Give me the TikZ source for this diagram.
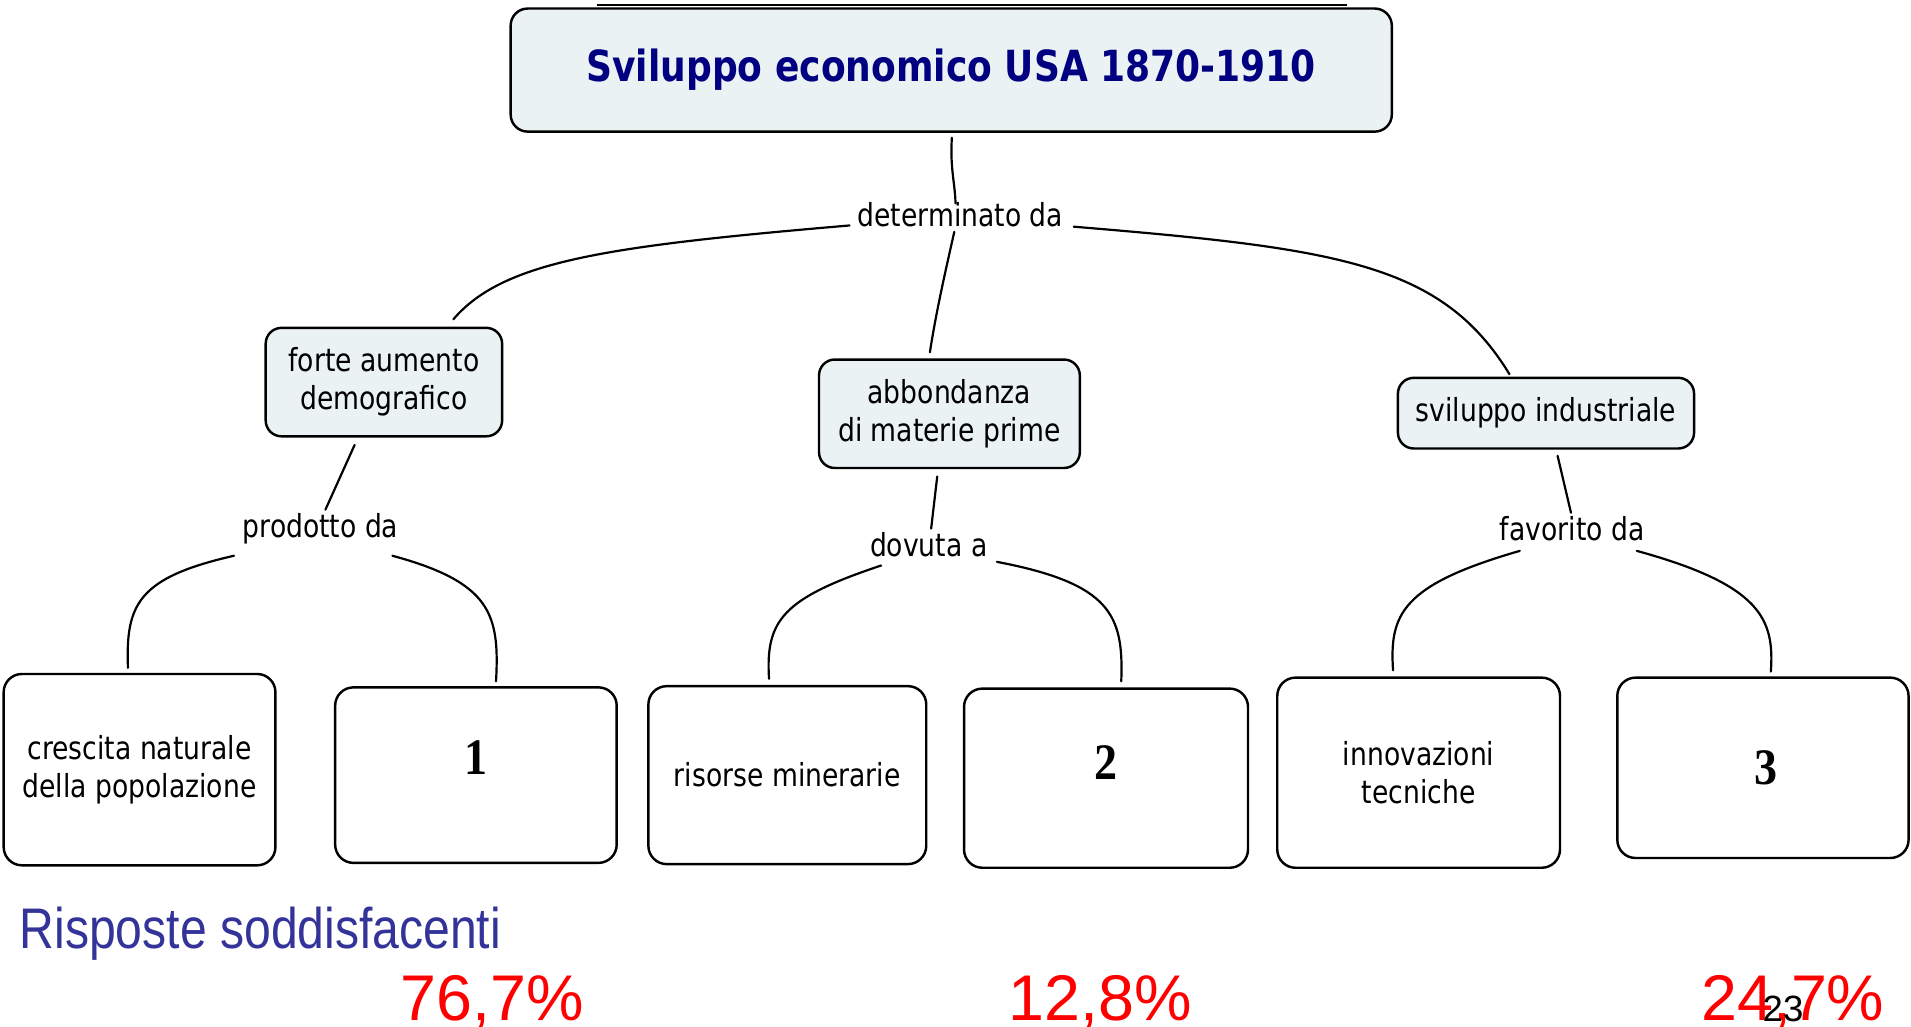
\documentclass[tikz,border=0pt]{standalone}
\usepackage{fontspec}
\setmainfont{DejaVu Sans}[FakeStretch=0.84]
\newfontfamily\arialc{Liberation Sans}[FakeStretch=0.84]
\newfontfamily\arialn{Liberation Sans}
\newfontfamily\timesc{Liberation Serif}[FakeStretch=0.9]
\usetikzlibrary{calc}
\definecolor{boxfill}{HTML}{EBF2F4}
\definecolor{titleblue}{HTML}{000080}
\definecolor{risp}{HTML}{333399}
\tikzset{
  conn/.style={line width=1.8pt, line cap=round},
  concept/.style={draw, line width=2pt, rounded corners=13pt, fill=boxfill, align=center,
     inner sep=0pt, font=\fontsize{26}{31}\selectfont},
  leaf/.style={draw, line width=2pt, rounded corners=15pt, fill=white, align=center,
     inner sep=0pt, font=\fontsize{26}{31}\selectfont},
  linklab/.style={inner sep=0pt, font=\fontsize{26}{31}\selectfont},
  numtxt/.style={font=\timesc\bfseries\fontsize{42}{42}\selectfont},
  pct/.style={text=red, anchor=base, inner sep=0pt, font=\arialn\fontsize{53}{53}\selectfont},
}
\begin{document}
\begin{tikzpicture}[x=1pt,y=-1pt]
\useasboundingbox (0,0) rectangle (1568,842);
% title
\draw[line width=1.5pt] (490,4) -- (1105,4);
\node[concept, minimum width=723pt, minimum height=101pt, rounded corners=14pt,
      font=\bfseries\fontsize{35.2}{40}\selectfont, text=titleblue] (title) at (780.5,57.5)
      {Sviluppo economico USA 1870-1910};
% level 2
\node[concept, minimum width=194pt, minimum height=89pt] (forte) at (315,313.5) {forte aumento\\demografico};
\node[concept, minimum width=214pt, minimum height=89pt] (abb) at (779,339.5) {abbondanza\\di materie prime};
\node[concept, minimum width=243pt, minimum height=58pt] (svil) at (1268.5,339) {sviluppo industriale};
% link labels
\node[linklab] (det) at (788,176) {determinato da};
\node[linklab] (prod) at (263,434) {prodotto da};
\node[linklab] (dov) at (762,447) {dovuta a};
\node[linklab] (fav) at (1290,434) {favorito da};
% leaves
\node[leaf, minimum width=223pt, minimum height=157pt] (l1) at (114.5,631.5) {crescita naturale\\della popolazione};
\node[leaf, minimum width=231pt, minimum height=144pt] (l2) at (390.5,636) {};
\node[numtxt] (n1) at ($(l2.center)+(0,-14)$) {1};
\node[leaf, minimum width=228pt, minimum height=146pt] (l3) at (646,636) {risorse minerarie};
\node[leaf, minimum width=233pt, minimum height=147pt] (l4) at (907.5,638.5) {};
\node[numtxt] (n2) at ($(l4.center)+(0,-13)$) {2};
\node[leaf, minimum width=232pt, minimum height=156pt] (l5) at (1164,634) {innovazioni\\tecniche};
\node[leaf, minimum width=239pt, minimum height=148pt] (l6) at (1446.5,630) {};
\node[numtxt] (n3) at ($(l6.center)+(2.5,0)$) {3};
% connectors
\draw[conn] ($(title.south)+(0.5,4)$) .. controls ($(title.south)+(-1,30)$) and ($(title.south)+(3,40)$) .. ($(det.north)+(-4,1)$);
\draw[conn] ($(det.center)+(-91,9)$) .. controls ($(det.center)+(-290,26)$) and ($(det.center)+(-375,38)$) .. ($(forte.north)+(57,-6)$);
\draw[conn] ($(det.south)+(-5,4)$) .. controls ($(det.south)+(-12,35)$) and ($(det.south)+(-20,70)$) .. ($(abb.north)+(-16,-5)$);
\draw[conn] ($(det.center)+(93,10)$) .. controls ($(det.center)+(310,28)$) and ($(det.center)+(395,40)$) .. ($(svil.north)+(-30,-2)$);
\draw[conn] ($(forte.south)+(-24,6)$) -- ($(prod.north)+(4,-3)$);
\draw[conn] ($(prod.center)+(-71,22)$) .. controls ($(prod.center)+(-150,40)$) and ($(prod.center)+(-160,62)$) .. ($(l1.north)+(-9.5,-4)$);
\draw[conn] ($(prod.center)+(59,22)$) .. controls ($(prod.center)+(140,44)$) and ($(prod.center)+(147,70)$) .. ($(l2.north)+(16.5,-4)$);
\draw[conn] ($(abb.south)+(-10,6)$) -- ($(dov.north)+(2,-3)$);
\draw[conn] ($(dov.center)+(-39,17)$) .. controls ($(dov.center)+(-120,44)$) and ($(dov.center)+(-134,62)$) .. ($(l3.north)+(-15,-5)$);
\draw[conn] ($(dov.center)+(56,14)$) .. controls ($(dov.center)+(150,32)$) and ($(dov.center)+(160,58)$) .. ($(l4.north)+(12.5,-5)$);
\draw[conn] ($(svil.south)+(9.5,5)$) -- ($(fav.north)+(-1,-3)$);
\draw[conn] ($(fav.center)+(-43,18)$) .. controls ($(fav.center)+(-140,46)$) and ($(fav.center)+(-150,70)$) .. ($(l5.north)+(-21,-5)$);
\draw[conn] ($(fav.center)+(53,18)$) .. controls ($(fav.center)+(155,46)$) and ($(fav.center)+(166,74)$) .. ($(l6.north)+(6.5,-4)$);
% bottom texts
\node[anchor=base west, inner sep=0pt, text=risp, font=\arialc\fontsize{47}{47}\selectfont] (risposte) at (16,778) {Risposte soddisfacenti};
\node[pct] (p1) at (404,837) {76,7\%};
\node[pct] (p2) at (903,837) {12,8\%};
\node[pct] (p3) at (1471,837) {24,7\%};
\node[anchor=base, inner sep=0pt, font=\arialn\fontsize{30}{30}\selectfont] (pg) at (1463,838) {23};
\end{tikzpicture}
\end{document}
